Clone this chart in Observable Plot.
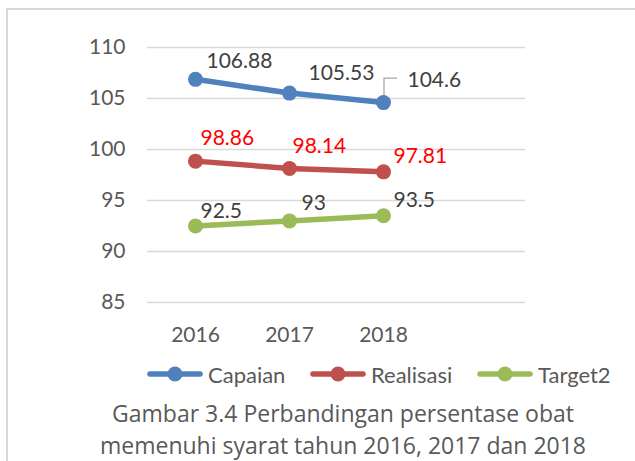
<!DOCTYPE html>
<html>
<head>
<meta charset="utf-8">
<script src="https://cdn.jsdelivr.net/npm/d3@7"></script>
<script src="https://cdn.jsdelivr.net/npm/@observablehq/plot@0.6"></script>
<style>
  html, body { margin: 0; padding: 0; background: #fff; }
  body { width: 635px; height: 461px; position: relative; overflow: hidden; font-family: Lato, "Open Sans", sans-serif; }
  #frame { position: absolute; left: 6px; top: 8px; width: 700px; height: 500px; border-left: 2px solid #d9d9d9; border-top: 2px solid #d9d9d9; box-sizing: border-box; }
  #chart { position: absolute; left: 0; top: 0; }
  #legend { position: absolute; top: 360px; left: 0; width: 635px; height: 28px; }
  .item { position: absolute; top: 0; display: flex; align-items: center; font-size: 22px; color: #595959; height: 28px; }
  .item svg { margin-right: 5px; }
  #caption { position: absolute; top: 397px; left: 0; width: 686px; text-align: center; font-family: "Open Sans", sans-serif; font-size: 23px; line-height: 32px; color: #595959; }
</style>
</head>
<body>
<div id="frame"></div>
<div id="chart"></div>
<div id="legend"></div>
<div id="caption">Gambar 3.4 Perbandingan persentase obat<br>memenuhi syarat tahun 2016, 2017 dan 2018</div>
<script>
const years = ["2016", "2017", "2018"];
const seriesNames = ["Capaian", "Realisasi", "Target2"];
const capaian = [106.88, 105.53, 104.6];
const realisasi = [98.86, 98.14, 97.81];
const target2 = [92.5, 93, 93.5];
const yTicks = [85, 90, 95, 100, 105, 110];

const colors = {Capaian: "#4f81bd", Realisasi: "#c0504d", Target2: "#9bbb59"};
const labelColors = {Capaian: "#404040", Realisasi: "#ff0000", Target2: "#404040"};
// pixel offsets of the data labels (layout only)
const labelOffsets = {
  Capaian: [[11, -18], [19, -20], [24, -22]],
  Realisasi: [[5, -23], [3, -22], [10, -16]],
  Target2: [[5, -15], [12, -18], [10, -16]]
};

const valuesBySeries = {Capaian: capaian, Realisasi: realisasi, Target2: target2};
const data = seriesNames.flatMap(s => years.map((yr, i) => ({
  series: s, year: yr, value: valuesBySeries[s][i],
  dx: labelOffsets[s][i][0], dy: labelOffsets[s][i][1]
})));

const font = "Lato, 'Open Sans', sans-serif";

const labelMarks = data.map(d => Plot.text([d], {
  x: "year", y: "value", text: d => String(d.value),
  dx: d.dx, dy: d.dy, textAnchor: "start", lineAnchor: "middle",
  fill: labelColors[d.series], fontSize: 21, fontFamily: font
}));

// leader line for the last Capaian label
const leader = (index, scales) => {
  const x0 = scales.x("2018");
  const bw = scales.x(" ") - x0;
  const x = x0 + bw / 2;
  const y = scales.y(capaian[2]);
  const p = d3.create("svg:path")
    .attr("d", `M${x + 1},${y - 3}V${y - 24}H${x + 14}`)
    .attr("fill", "none").attr("stroke", "#a6a6a6").attr("stroke-width", 1.3);
  return p.node();
};

const chart = Plot.plot({
  width: 635, height: 350,
  marginLeft: 147, marginRight: 110, marginTop: 47, marginBottom: 48,
  style: {fontFamily: font, background: "transparent", overflow: "visible"},
  x: {type: "band", domain: [...years, " "], padding: 0, axis: null},
  y: {domain: [85, 110], axis: null},
  marks: [
    Plot.gridY(yTicks, {stroke: "#d9d9d9", strokeOpacity: 1, strokeWidth: 1.3}),
    Plot.axisY(yTicks, {tickSize: 0, tickPadding: 22, fontSize: 21, fill: "#595959", tickFormat: d => String(d), label: null}),
    Plot.axisX(years, {tickSize: 0, tickPadding: 25, fontSize: 21, fill: "#595959", label: null}),
    leader,
    Plot.line(data, {x: "year", y: "value", z: "series", stroke: d => colors[d.series], strokeWidth: 5.5}),
    Plot.dot(data, {x: "year", y: "value", r: 7.5, fill: d => colors[d.series], stroke: "none"}),
    ...labelMarks
  ]
});
document.getElementById("chart").appendChild(chart);

// legend
const legendPos = {Capaian: 147, Realisasi: 310, Target2: 477};
const legend = document.getElementById("legend");
for (const s of seriesNames) {
  const item = document.createElement("div");
  item.className = "item";
  item.style.left = legendPos[s] + "px";
  item.innerHTML = `<svg width="56" height="20"><line x1="3" x2="53" y1="10" y2="10" stroke="${colors[s]}" stroke-width="5.5" stroke-linecap="round"/><circle cx="28" cy="10" r="7.5" fill="${colors[s]}"/></svg><span>${s}</span>`;
  legend.appendChild(item);
}
</script>
</body>
</html>
